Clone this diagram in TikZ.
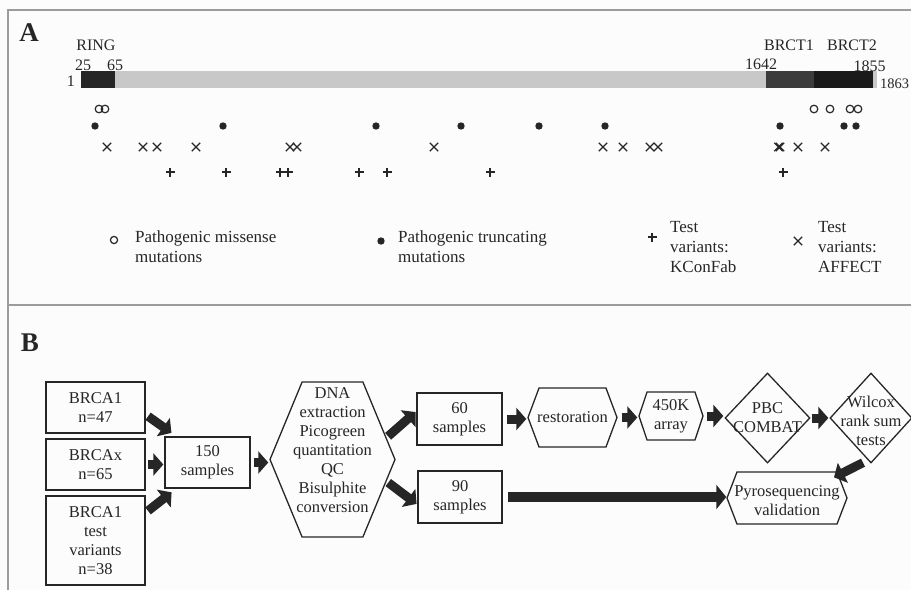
\documentclass[tikz,border=0pt]{standalone}
\usepackage{fontspec}
\setmainfont{Liberation Serif}
\usetikzlibrary{arrows.meta,shapes.geometric,shapes.symbols}
\definecolor{ink}{HTML}{262626}
\definecolor{framegray}{HTML}{9C9C9C}
\definecolor{bargray}{HTML}{C8C8C8}
\definecolor{brctone}{HTML}{3C3C3C}
\definecolor{brcttwo}{HTML}{1A1A1A}
\definecolor{bgcol}{HTML}{FCFCFC}
\begin{document}
\begin{tikzpicture}[x=1pt,y=-1pt,
  font=\fontsize{16.5}{19}\selectfont,
  every node/.append style={text=ink},
  lblA/.style={font=\fontsize{16}{19}\selectfont, inner sep=0pt},
  leg/.style={font=\fontsize{17}{20}\selectfont, inner sep=0pt, align=left},
  panel/.style={font=\fontsize{27}{27}\selectfont\bfseries, inner sep=0pt},
  box/.style={draw=ink, line width=1.3pt, rectangle, inner sep=0pt},
  hexa/.style={draw=ink, line width=1.3pt, signal, signal to=west and east, inner sep=0pt},
  dia/.style={draw=ink, line width=1.3pt, diamond, inner sep=0pt},
  txt/.style={align=center, inner sep=0pt},
  fat/.style={draw=ink, line width=9pt, arrows={-Triangle[width=22pt, length=10pt]}},
  fatlong/.style={draw=ink, line width=10pt, arrows={-Triangle[width=24pt, length=10pt]}},
  mk/.style={ink, line width=1.2pt},
]
\useasboundingbox (0,0) rectangle (911,590);
\fill[bgcol] (0,0) rectangle (911,590);
\draw[framegray, line width=1.5pt] (8,590) -- (8,10) -- (911,10);
\draw[framegray, line width=1.5pt] (8,305) -- (911,305);

% ---------- Panel A ----------
\node[panel] (pA) at (29,33) {A};
\fill[bargray] (81,71) rectangle (877,88);
\fill[ink] (81,71) rectangle (115,88);
\fill[brctone] (766,71) rectangle (814,88);
\fill[brcttwo] (814,71) rectangle (873,88);

\node[lblA, anchor=base] (tRING) at (96,50) {RING};
\node[lblA, anchor=base] (t25) at (83,70) {25};
\node[lblA, anchor=base] (t65) at (115,70) {65};
\node[lblA, anchor=base east] (tone) at (75,86) {1};
\node[lblA, anchor=base] (t1642) at (761,69) {1642};
\node[lblA, anchor=base] (t1855) at (869.5,71) {1855};
\node[lblA, anchor=base west, font=\fontsize{14.5}{17}\selectfont] (t1863) at (880,88) {1863};
\node[lblA, anchor=base] (tB1) at (789,50) {BRCT1};
\node[lblA, anchor=base] (tB2) at (852,50) {BRCT2};

% markers
\foreach \x in {99,105,814,830,850,858}
  \draw[mk] (\x,109) circle (3.8);
\foreach \x in {95,223,376,461,539,605,780,844,856}
  \fill[ink] (\x,126) circle (3.7);
\foreach \x in {107,143,157,196,290,297,434,603,623,650,658,778.5,780,798,825}
  \draw[mk] (\x,147) +(-4.2,-4.2) -- +(4.2,4.2) +(-4.2,4.2) -- +(4.2,-4.2);
\foreach \x in {170,226,280,288,359,387,490,783}
  \draw[mk] (\x,172) +(-4.5,0) -- +(4.5,0) +(0,-4.5) -- +(0,4.5);

% legend
\draw[mk] (114,240) circle (3.6);
\node[leg, anchor=base west] (lg1) at (135,262) {Pathogenic missense\\mutations};
\fill[ink] (381,241) circle (3.7);
\node[leg, anchor=base west] (lg2) at (398,262) {Pathogenic truncating\\mutations};
\draw[mk] (652,237) +(-4.5,0) -- +(4.5,0) +(0,-4.5) -- +(0,4.5);
\node[leg, anchor=base west] (lg3) at (670,272) {Test\\variants:\\KConFab};
\draw[mk] (798,241) +(-4.2,-4.2) -- +(4.2,4.2) +(-4.2,4.2) -- +(4.2,-4.2);
\node[leg, anchor=base west] (lg4) at (818,272) {Test\\variants:\\AFFECT};

% ---------- Panel B ----------
\node[panel] (pB) at (30,343) {B};

\node[box, minimum width=99pt, minimum height=51pt, align=center] (b1) at (95.5,407.5) {BRCA1\\n=47};
\node[box, minimum width=99pt, minimum height=51pt, align=center] (b2) at (95.5,464.5) {BRCAx\\n=65};
\node[box, minimum width=99pt, minimum height=89pt, align=center] (b3) at (95.5,540.5) {BRCA1\\test\\variants\\n=38};
\node[box, minimum width=85pt, minimum height=51pt, align=center] (s150) at (207.5,462.5) {150\\samples};

\node[hexa, minimum width=125pt, minimum height=155pt, signal pointer angle=135,
  label={[txt, yshift=9pt]center:DNA\\extraction\\Picogreen\\quantitation\\QC\\Bisulphite\\conversion}] (dna) at (332.5,459.5) {};

\node[box, minimum width=85pt, minimum height=52pt, align=center] (s60) at (459.5,419) {60\\samples};
\node[box, minimum width=84pt, minimum height=52pt, align=center] (s90) at (460,497) {90\\samples};

\node[hexa, minimum width=89pt, minimum height=59pt, signal pointer angle=139,
  label={[txt]center:restoration}] (rest) at (572.5,417.5) {};
\node[hexa, minimum width=64pt, minimum height=48pt, signal pointer angle=143,
  label={[txt]center:450K\\array}] (k450) at (671,416) {};
\node[dia, minimum width=85pt, minimum height=90pt,
  label={[txt]center:PBC\\COMBAT}] (pbc) at (767.5,418) {};
\node[dia, minimum width=82pt, minimum height=90pt,
  label={[txt, yshift=-3pt]center:Wilcox\\rank sum\\tests}] (wil) at (871,418) {};
\node[hexa, minimum width=120pt, minimum height=52pt, signal pointer angle=138,
  label={[txt, yshift=-3pt]center:Pyrosequencing\\validation}] (pyro) at (787,498) {};

% arrows
\draw[fat, shorten <=3pt, shorten >=6pt] (b1.-8) -- (s150.140);
\draw[fat, shorten <=2pt, shorten >=1pt] (b2.east) -- (b2.east -| s150.west);
\draw[fat, shorten <=3pt, shorten >=6pt] (b3.29) -- (s150.220);
\draw[fat, shorten <=3pt, shorten >=1pt] (s150.east) -- (s150.east -| dna.west);
\draw[fat, shorten <=2pt, shorten >=1pt] (dna.22) -- (s60.170);
\draw[fat, shorten <=2pt, shorten >=1pt] (dna.-22) -- (s90.190);
\draw[fat, shorten <=4pt, shorten >=1pt] (s60.east) -- (s60.east -| rest.west);
\draw[fat, shorten <=4pt, shorten >=1pt] (rest.east) -- (rest.east -| k450.west);
\draw[fat, shorten <=3pt, shorten >=1pt] (k450.east) -- (k450.east -| pbc.west);
\draw[fat, shorten <=1pt, shorten >=1pt] (pbc.east) -- (pbc.east -| wil.west);
\draw[fat] ([xshift=-8pt,yshift=1pt]wil.south) -- ([xshift=47pt,yshift=-6pt]pyro.north);
\draw[fatlong, shorten <=5pt] (s90.east) -- (s90.east -| pyro.west);
\end{tikzpicture}
\end{document}
